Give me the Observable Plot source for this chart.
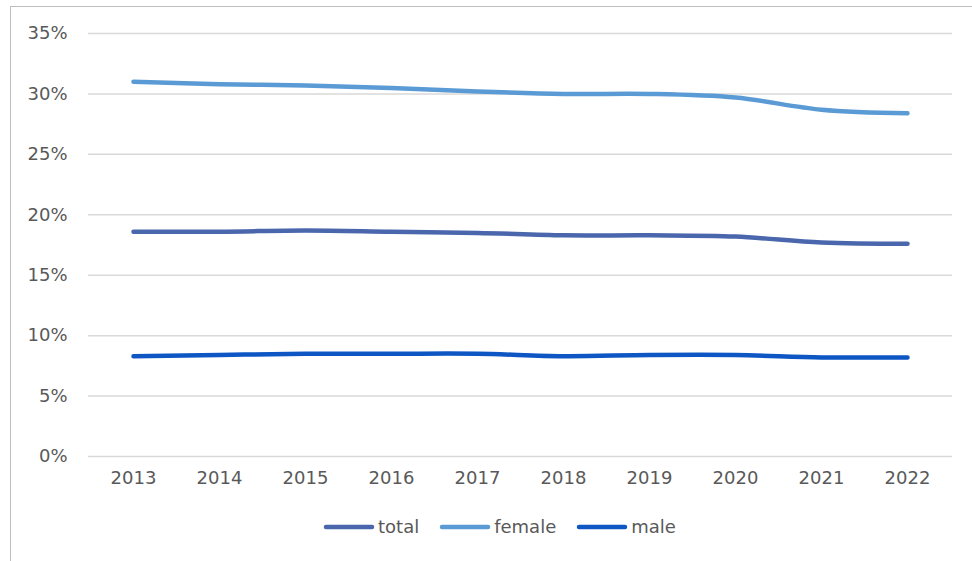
<!DOCTYPE html>
<html>
<head>
<meta charset="utf-8">
<script src="https://cdn.jsdelivr.net/npm/d3@7"></script>
<script src="https://cdn.jsdelivr.net/npm/@observablehq/plot@0.6"></script>
<style>
  body { margin: 0; background: #fff; font-family: "DejaVu Sans", sans-serif; }
  #wrap { position: relative; width: 972px; height: 561px; overflow: hidden; }
  #frame { position: absolute; left: 10px; top: 6px; width: 980px; height: 600px; border-left: 1.5px solid #bfbfbf; border-top: 1.5px solid #bfbfbf; box-sizing: border-box; }
  #chart { position: absolute; left: 0; top: 0; }
  #legend { position: absolute; left: 323px; top: 516px; display: flex; align-items: center; font-size: 18px; color: #595959; }
  #legend .item { display: flex; align-items: center; margin-right: 20px; }
  #legend svg { display: block; margin-right: 3px; }
</style>
</head>
<body>
<div id="wrap">
  <div id="frame"></div>
  <div id="chart"></div>
  <div id="legend"></div>
</div>
<script>
const years = ["2013","2014","2015","2016","2017","2018","2019","2020","2021","2022"];
const total  = [18.6, 18.6, 18.7, 18.6, 18.5, 18.3, 18.3, 18.2, 17.7, 17.6];
const female = [31.0, 30.8, 30.7, 30.5, 30.2, 30.0, 30.0, 29.7, 28.7, 28.4];
const male   = [8.3, 8.4, 8.5, 8.5, 8.5, 8.3, 8.4, 8.4, 8.2, 8.2];
const seriesNames = ["total", "female", "male"];
const seriesColors = ["#4a66ac", "#5b9bd5", "#0e56c4"];
const yTicks = [0, 5, 10, 15, 20, 25, 30, 35];

const seriesValues = {total, female, male};
const data = [];
for (const s of seriesNames) {
  years.forEach((y, i) => data.push({year: y, value: seriesValues[s][i] / 100, series: s}));
}

const chart = Plot.plot({
  width: 972,
  height: 500,
  marginLeft: 88,
  marginRight: 20,
  marginTop: 33,
  marginBottom: 44,
  style: {fontFamily: "DejaVu Sans, sans-serif", fontSize: "18px", color: "#595959", background: "transparent"},
  x: {type: "point", domain: years, padding: 0.5, label: null},
  y: {domain: [0, 0.35], label: null},
  color: {domain: seriesNames, range: seriesColors},
  marks: [
    Plot.ruleY(yTicks.map(d => d / 100), {stroke: "#d9d9d9", strokeWidth: 1.5}),
    Plot.axisY(yTicks.map(d => d / 100), {tickSize: 0, tickPadding: 21, tickFormat: d => Math.round(d * 100) + "%", fill: "#595959", fontSize: 18}),
    Plot.axisX({tickSize: 0, tickPadding: 15, fill: "#595959", fontSize: 18}),
    Plot.line(data, {x: "year", y: "value", stroke: "series", z: "series", strokeWidth: 4.5, strokeLinecap: "round", strokeLinejoin: "round", curve: "catmull-rom"})
  ]
});
document.getElementById("chart").appendChild(chart);

const legend = document.getElementById("legend");
seriesNames.forEach((s, i) => {
  const item = document.createElement("div");
  item.className = "item";
  item.innerHTML = `<svg width="52" height="10"><line x1="3" y1="5" x2="49" y2="5" stroke="${seriesColors[i]}" stroke-width="4.5" stroke-linecap="round"/></svg><span>${s}</span>`;
  legend.appendChild(item);
});
</script>
</body>
</html>
